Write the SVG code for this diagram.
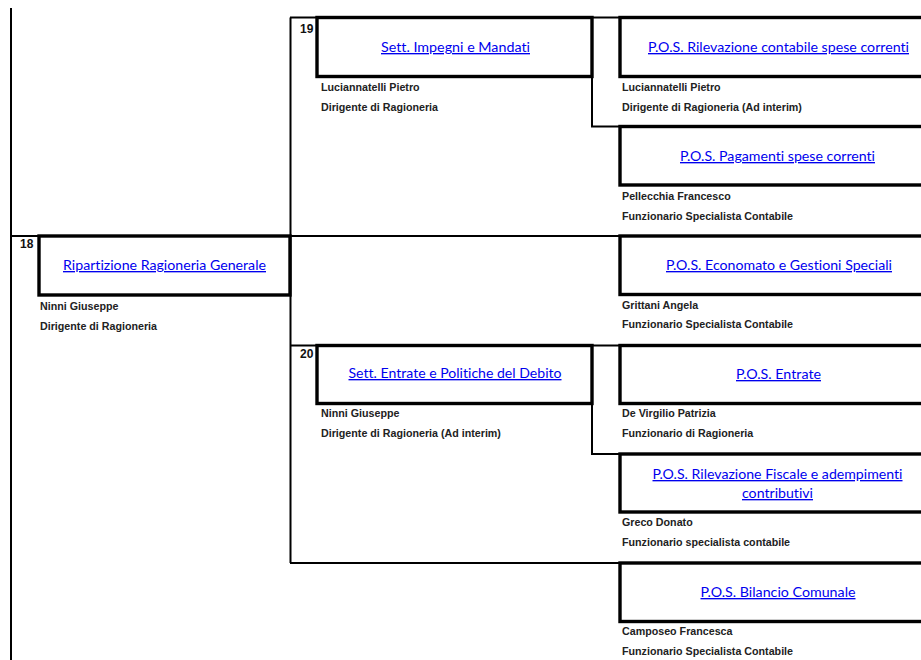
<svg xmlns="http://www.w3.org/2000/svg" width="921" height="660" viewBox="0 0 921 660">
<style>
.thin{fill:none;stroke:#000;stroke-width:2}
.box{fill:none;stroke:#000;stroke-width:3.4}
.num{font-family:"Liberation Sans",Arial,sans-serif;font-weight:bold;font-size:12px;fill:#111}
.ttl{font-family:Lato,"Open Sans",sans-serif;font-size:13.5px;fill:#0000ee;text-decoration:underline;text-anchor:middle;font-variant-ligatures:none}
.per{font-family:"Liberation Sans",Arial,sans-serif;font-weight:bold;font-size:10.7px;fill:#222}
</style>
<rect width="921" height="660" fill="#fff"/>
<g id="connectors">
<path class="thin" d="M11 8V660"/>
<path class="thin" d="M11 236H921"/>
<path class="thin" d="M290.5 17.5V563"/>
<path class="thin" d="M290 17.5H620"/>
<path class="thin" d="M592 17.5V126.5H620"/>
<path class="thin" d="M290 345.5H620"/>
<path class="thin" d="M592 345.5V454H620"/>
<path class="thin" d="M290 563H620"/>
</g>
<g id="node18">
<rect class="box" x="39" y="236" width="251" height="59"/>
<text class="num" x="20" y="248">18</text>
<text class="ttl" x="164.5" y="270" textLength="203" lengthAdjust="spacingAndGlyphs">Ripartizione Ragioneria Generale</text>
<text class="per" x="40" y="310">Ninni Giuseppe</text>
<text class="per" x="40" y="330">Dirigente di Ragioneria</text>
</g>
<g id="node19">
<rect class="box" x="317" y="17.5" width="275" height="59"/>
<text class="num" x="300" y="33">19</text>
<text class="ttl" x="455.5" y="52" textLength="149" lengthAdjust="spacingAndGlyphs">Sett. Impegni e Mandati</text>
<text class="per" x="321" y="90.5">Luciannatelli Pietro</text>
<text class="per" x="321" y="110.5">Dirigente di Ragioneria</text>
</g>
<g id="node20">
<rect class="box" x="317" y="345.5" width="275" height="58"/>
<text class="num" x="300" y="358">20</text>
<text class="ttl" x="455" y="378" textLength="213" lengthAdjust="spacingAndGlyphs">Sett. Entrate e Politiche del Debito</text>
<text class="per" x="321" y="417">Ninni Giuseppe</text>
<text class="per" x="321" y="437">Dirigente di Ragioneria (Ad interim)</text>
</g>
<g id="pos-rilevazione-contabile">
<rect class="box" x="620" y="17.5" width="320" height="59"/>
<text class="ttl" x="778.5" y="52" textLength="261" lengthAdjust="spacingAndGlyphs">P.O.S. Rilevazione contabile spese correnti</text>
<text class="per" x="622" y="91">Luciannatelli Pietro</text>
<text class="per" x="622" y="111">Dirigente di Ragioneria (Ad interim)</text>
</g>
<g id="pos-pagamenti">
<rect class="box" x="620" y="126.5" width="320" height="58.5"/>
<text class="ttl" x="777.5" y="161" textLength="195" lengthAdjust="spacingAndGlyphs">P.O.S. Pagamenti spese correnti</text>
<text class="per" x="622" y="200">Pellecchia Francesco</text>
<text class="per" x="622" y="220">Funzionario Specialista Contabile</text>
</g>
<g id="pos-economato">
<rect class="box" x="620" y="236" width="320" height="58.5"/>
<text class="ttl" x="779" y="270" textLength="226" lengthAdjust="spacingAndGlyphs">P.O.S. Economato e Gestioni Speciali</text>
<text class="per" x="622" y="309">Grittani Angela</text>
<text class="per" x="622" y="328">Funzionario Specialista Contabile</text>
</g>
<g id="pos-entrate">
<rect class="box" x="620" y="345.5" width="320" height="58"/>
<text class="ttl" x="778.5" y="379" textLength="85" lengthAdjust="spacingAndGlyphs">P.O.S. Entrate</text>
<text class="per" x="622" y="417">De Virgilio Patrizia</text>
<text class="per" x="622" y="437">Funzionario di Ragioneria</text>
</g>
<g id="pos-rilevazione-fiscale">
<rect class="box" x="620" y="454" width="320" height="58"/>
<text class="ttl" x="777.5" y="479" textLength="250" lengthAdjust="spacingAndGlyphs">P.O.S. Rilevazione Fiscale e adempimenti</text>
<text class="ttl" x="777.5" y="498" textLength="71" lengthAdjust="spacingAndGlyphs">contributivi</text>
<text class="per" x="622" y="526">Greco Donato</text>
<text class="per" x="622" y="546">Funzionario specialista contabile</text>
</g>
<g id="pos-bilancio">
<rect class="box" x="620" y="563" width="320" height="58.5"/>
<text class="ttl" x="778" y="597" textLength="155" lengthAdjust="spacingAndGlyphs">P.O.S. Bilancio Comunale</text>
<text class="per" x="622" y="635">Camposeo Francesca</text>
<text class="per" x="622" y="655">Funzionario Specialista Contabile</text>
</g>
</svg>
